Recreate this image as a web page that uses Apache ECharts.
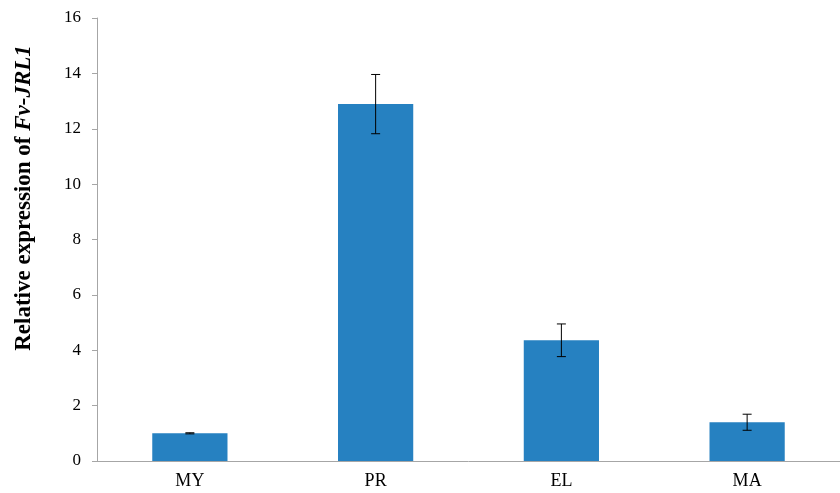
<!DOCTYPE html>
<html>
<head>
<meta charset="utf-8">
<script src="https://cdn.jsdelivr.net/npm/echarts@6/dist/echarts.min.js"></script>
<style>
  html, body { margin: 0; padding: 0; background: #fff; }
  #chart { width: 840px; height: 493px; }
</style>
</head>
<body>
<div id="chart"></div>
<script>
const categories = ['MY', 'PR', 'EL', 'MA'];
const expression = [1.0, 12.89, 4.36, 1.40];
const errors = [0.02, 1.07, 0.59, 0.29];
const yTicks = [0, 2, 4, 6, 8, 10, 12, 14, 16];

const chart = echarts.init(document.getElementById('chart'));

const errorData = categories.map((c, i) => [i, expression[i] - errors[i], expression[i] + errors[i]]);

const option = {
  animation: false,
  grid: { left: 97, right: -9, top: 18, bottom: 32, containLabel: false },
  xAxis: {
    type: 'category',
    data: categories,
    axisLine: { lineStyle: { color: '#a6a6a6', width: 1 } },
    axisTick: { alignWithLabel: false, length: 5, lineStyle: { color: '#a6a6a6' } },
    axisLabel: { color: '#000', fontFamily: 'Liberation Serif', fontSize: 18, margin: 11 }
  },
  yAxis: {
    type: 'value',
    min: yTicks[0],
    max: yTicks[yTicks.length - 1],
    interval: 2,
    splitLine: { show: false },
    axisLine: { show: true, lineStyle: { color: '#a6a6a6', width: 1 } },
    axisTick: { show: true, length: 5, lineStyle: { color: '#a6a6a6' } },
    axisLabel: { color: '#000', fontFamily: 'Liberation Serif', fontSize: 17, margin: 16 }
  },
  graphic: [{
    type: 'text',
    x: 24,
    y: 198,
    rotation: Math.PI / 2,
    style: {
      text: '{n|Relative expression of }{i|Fv-JRL1}',
      align: 'center',
      verticalAlign: 'middle',
      rich: {
        n: { fontFamily: 'Liberation Serif', fontWeight: 'bold', fontSize: 23, fill: '#000' },
        i: { fontFamily: 'Liberation Serif', fontWeight: 'bold', fontStyle: 'italic', fontSize: 23, fill: '#000' }
      }
    }
  }],
  series: [
    {
      type: 'bar',
      data: expression,
      barWidth: '40.5%',
      itemStyle: { color: '#2681c1' }
    },
    {
      type: 'custom',
      data: errorData,
      z: 10,
      renderItem: function (params, api) {
        const x = api.value(0);
        const lo = api.coord([x, api.value(1)]);
        const hi = api.coord([x, api.value(2)]);
        const cap = 4.5;
        const style = { stroke: '#000', lineWidth: 1 };
        return {
          type: 'group',
          children: [
            { type: 'line', shape: { x1: lo[0], y1: lo[1], x2: hi[0], y2: hi[1] }, style: style },
            { type: 'line', shape: { x1: hi[0] - cap, y1: hi[1], x2: hi[0] + cap, y2: hi[1] }, style: style },
            { type: 'line', shape: { x1: lo[0] - cap, y1: lo[1], x2: lo[0] + cap, y2: lo[1] }, style: style }
          ]
        };
      }
    }
  ]
};

chart.setOption(option);
</script>
</body>
</html>
